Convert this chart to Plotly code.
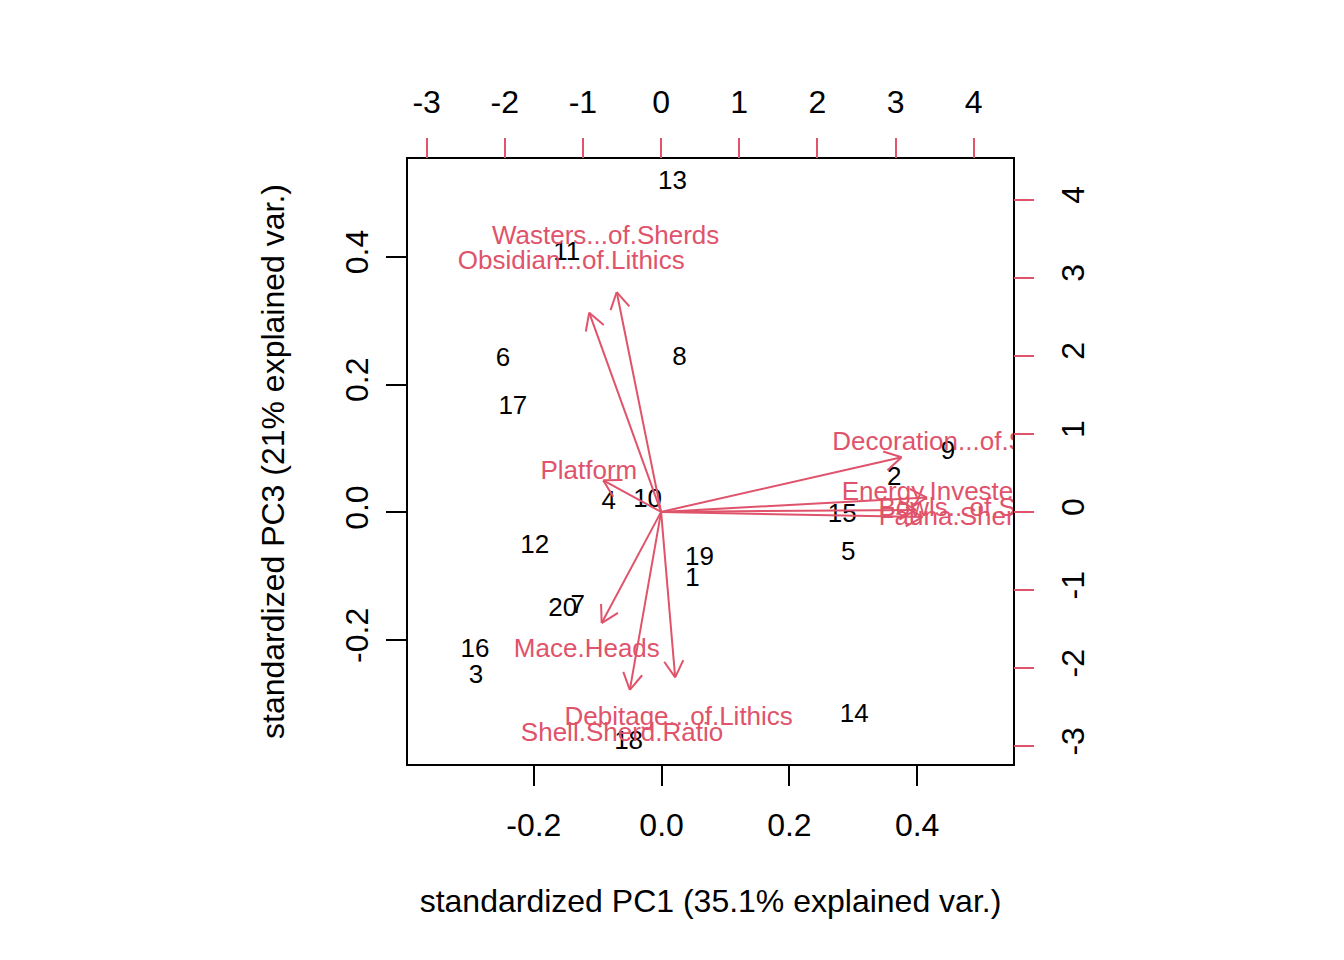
import math
import plotly.graph_objects as go

# observation scores (standardized PC1 / PC3), labelled 1..20
obs_labels = [str(i) for i in range(1, 21)]
pc1 = [0.0484, 0.3641, -0.2906, -0.0828, 0.2922, -0.2484, -0.1313, 0.0281, 0.4484, -0.0219,
       -0.1484, -0.1984, 0.0172, 0.3016, 0.2828, -0.2922, -0.2328, -0.0516, 0.0594, -0.1547]
pc3 = [-0.1047, 0.0531, -0.2563, 0.0156, -0.0641, 0.2391, -0.1469, 0.2406, 0.0938, 0.0188,
       0.4047, -0.0531, 0.5156, -0.3172, -0.0047, -0.2156, 0.1641, -0.3609, -0.0719, -0.1516]

# variable loadings (secondary axes)
var_names = ["Wasters...of.Sherds", "Obsidian...of.Lithics", "Platform", "Mace.Heads",
             "Debitage...of.Lithics", "Shell.Sherd.Ratio", "Decoration...of.Sherds",
             "Energy.Invested.in.Sherds", "Bowls...of.Sherds", "Fauna.Sherd.Ratio"]
load1 = [-0.71, -1.15, -0.925, -0.95, 0.225, -0.50, 3.845, 4.25, 4.075, 4.18]
load3 = [3.52, 3.19, 0.505, -1.78, -2.65, -2.85, 0.876, 0.23, 0.032, -0.083]

prim_ticks = [-0.2, 0, 0.2, 0.4]
prim_ticktext = ["-0.2", "0.0", "0.2", "0.4"]
sec_ticks = list(range(-3, 5))
sec_ticktext = [str(v) for v in sec_ticks]

RED = "#DF536B"
FONT = "Liberation Sans"
ARROW_SCALE = 0.8
HEAD_LEN = 0.245
HEAD_ANG = 30

# arrows from origin to 0.8 * loading, with open heads
ax, ay = [], []
for lx, ly in zip(load1, load3):
    tx, ty = lx * ARROW_SCALE, ly * ARROW_SCALE
    ax += [0, tx, None]
    ay += [0, ty, None]
    th = math.atan2(ty, tx)
    for s in (1, -1):
        a = th + math.pi - s * math.radians(HEAD_ANG)
        ax += [tx, tx + HEAD_LEN * math.cos(a), None]
        ay += [ty, ty + HEAD_LEN * math.sin(a), None]

fig = go.Figure()

fig.add_trace(go.Scatter(
    x=pc1, y=pc3, text=obs_labels, mode="text",
    textfont=dict(family=FONT, size=26, color="black"),
    textposition="middle center", cliponaxis=True, showlegend=False
))

fig.add_trace(go.Scatter(
    x=ax, y=ay, mode="lines", xaxis="x2", yaxis="y2",
    line=dict(color=RED, width=2), showlegend=False, hoverinfo="skip"
))

fig.add_trace(go.Scatter(
    x=load1, y=load3, text=var_names, mode="text", xaxis="x2", yaxis="y2",
    textfont=dict(family=FONT, size=26, color=RED),
    textposition="middle center", cliponaxis=True, showlegend=False
))

tick_font = dict(family=FONT, size=32, color="black")
common = dict(showgrid=False, zeroline=False, ticks="outside", ticklen=20, tickwidth=2,
              tickfont=tick_font, automargin=False)

fig.update_layout(
    width=1344, height=960,
    margin=dict(l=400, r=339, t=151, b=204),
    paper_bgcolor="white", plot_bgcolor="white",
    font=dict(family=FONT, size=32, color="black"),
    xaxis=dict(range=[-0.3969, 0.55], tickvals=prim_ticks, ticktext=prim_ticktext,
               tickcolor="black", showline=True, mirror=True, linecolor="black", linewidth=2,
               title=dict(text="standardized PC1 (35.1% explained var.)",
                          font=dict(family=FONT, size=32), standoff=47),
               ticklabelstandoff=12, **common),
    yaxis=dict(range=[-0.3938, 0.5531], tickvals=prim_ticks, ticktext=prim_ticktext,
               tickcolor="black", tickangle=-90,
               showline=True, mirror=True, linecolor="black", linewidth=2,
               title=dict(text="standardized PC3 (21% explained var.)",
                          font=dict(family=FONT, size=32), standoff=45),
               ticklabelstandoff=5, **common),
    xaxis2=dict(range=[-3.238, 4.502], overlaying="x", side="top", tickcolor=RED,
                tickvals=sec_ticks, ticktext=sec_ticktext, showline=False,
                ticklabelstandoff=12, **common),
    yaxis2=dict(range=[-3.229, 4.52], overlaying="y", side="right", tickcolor=RED,
                tickvals=sec_ticks, ticktext=sec_ticktext, tickangle=-90, showline=False,
                ticklabelstandoff=12, **common),
)

fig.write_html("out.html")
